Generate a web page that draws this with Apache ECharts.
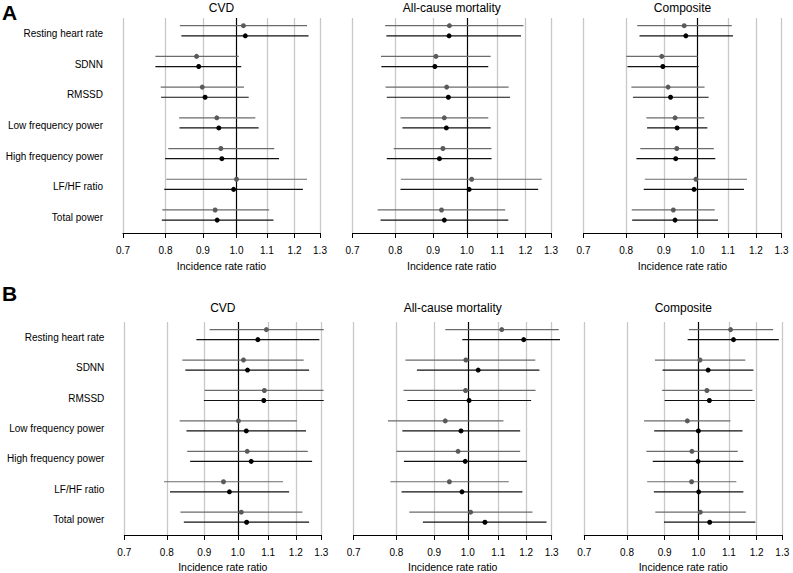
<!DOCTYPE html>
<html><head><meta charset="utf-8">
<script src="https://cdn.jsdelivr.net/npm/echarts@6/dist/echarts.min.js"></script>
<style>html,body{margin:0;padding:0;background:#fff}#c{width:793px;height:573px}</style>
</head><body><div id="c"></div>
<script>
// ---------- data ----------
const categories = ['Resting heart rate','SDNN','RMSSD','Low frequency power','High frequency power','LF/HF ratio','Total power'];
const outcomes = ['CVD','All-cause mortality','Composite'];
const panelLetters = ['A','B'];
const tickValues = [0.7,0.8,0.9,1.0,1.1,1.2,1.3];
const gridValues = [0.7,0.8,0.9,1.1,1.2,1.3];
const refValue = 1.0;
const axisTitle = 'Incidence rate ratio';

// each row: [estimate, lower CI, upper CI]; m1 = grey, m2 = black
const A_CVD_m1 = [[1.022,0.837,1.248],[0.882,0.775,1.007],[0.898,0.788,1.024],[0.940,0.835,1.061],[0.952,0.807,1.126],[1.000,0.802,1.248],[0.935,0.792,1.108]];
const A_CVD_m2 = [[1.028,0.841,1.254],[0.888,0.775,1.015],[0.906,0.789,1.039],[0.946,0.836,1.072],[0.955,0.799,1.143],[0.991,0.797,1.232],[0.941,0.791,1.123]];
const A_ALL_m1 = [[0.947,0.775,1.193],[0.908,0.765,1.077],[0.939,0.776,1.139],[0.932,0.813,1.069],[0.928,0.796,1.080],[1.015,0.814,1.263],[0.924,0.757,1.127]];
const A_ALL_m2 = [[0.946,0.778,1.184],[0.905,0.766,1.069],[0.944,0.779,1.144],[0.938,0.818,1.077],[0.918,0.779,1.080],[1.007,0.813,1.249],[0.932,0.764,1.138]];
const A_COMP_m1 = [[0.959,0.828,1.113],[0.894,0.800,1.000],[0.912,0.813,1.022],[0.932,0.852,1.021],[0.937,0.836,1.052],[0.995,0.848,1.167],[0.927,0.814,1.055]];
const A_COMP_m2 = [[0.964,0.834,1.117],[0.897,0.803,1.003],[0.919,0.817,1.035],[0.938,0.854,1.031],[0.934,0.826,1.057],[0.989,0.845,1.156],[0.932,0.815,1.066]];
const B_CVD_m1 = [[1.094,0.915,1.310],[1.018,0.840,1.230],[1.087,0.901,1.309],[1.002,0.833,1.204],[1.030,0.853,1.246],[0.956,0.793,1.153],[1.011,0.835,1.225]];
const B_CVD_m2 = [[1.065,0.878,1.292],[1.031,0.848,1.251],[1.085,0.899,1.310],[1.027,0.851,1.239],[1.043,0.861,1.263],[0.974,0.808,1.175],[1.028,0.844,1.251]];
const B_ALL_m1 = [[1.112,0.932,1.329],[0.994,0.823,1.235],[0.993,0.818,1.236],[0.932,0.779,1.118],[0.970,0.800,1.178],[0.944,0.785,1.137],[1.009,0.833,1.224]];
const B_ALL_m2 = [[1.191,0.983,1.334],[1.033,0.853,1.251],[1.004,0.828,1.219],[0.979,0.815,1.178],[0.992,0.819,1.203],[0.982,0.813,1.186],[1.055,0.869,1.279]];
const B_COMP_m1 = [[1.106,0.971,1.263],[1.005,0.873,1.158],[1.027,0.893,1.184],[0.966,0.844,1.105],[0.980,0.850,1.131],[0.979,0.852,1.126],[1.006,0.874,1.160]];
const B_COMP_m2 = [[1.116,0.967,1.286],[1.031,0.894,1.188],[1.035,0.900,1.193],[1.000,0.871,1.148],[0.999,0.867,1.151],[1.001,0.870,1.151],[1.036,0.898,1.195]];

const panelData = [
  [[A_CVD_m1, A_CVD_m2],[A_ALL_m1, A_ALL_m2],[A_COMP_m1, A_COMP_m2]],
  [[B_CVD_m1, B_CVD_m2],[B_ALL_m1, B_ALL_m2],[B_COMP_m1, B_COMP_m2]]
];

// ---------- layout / style ----------
const FONT = "'Liberation Sans', Arial, Helvetica, sans-serif";
const rowLayout = [
  {top: 18, height: 215, titleY: 8, letterY: 13, nameGap: 27},
  {top: 322, height: 214, titleY: 308, letterY: 294, nameGap: 26}
];
const colLayout = [
  [[123, 197], [352.5, 198.5], [583.5, 198]],
  [[124.3, 197], [353.7, 198], [584.3, 198]]
];
const modelStyle = [
  {frac: -0.25, line: '#6b6b6b', dot: '#5a5a5a'},
  {frac: 0.08, line: '#111111', dot: '#000000'}
];

function makeRender(st) {
  return function (params, api) {
    const y = api.value(0);
    const band = api.size([0, 1], [1, y])[1];
    const dy = band * st.frac;
    const p = api.coord([api.value(1), y]);
    const lo = api.coord([api.value(2), y]);
    const hi = api.coord([api.value(3), y]);
    const yy = p[1] + dy;
    return {type: 'group', children: [
      {type: 'line', shape: {x1: lo[0], y1: yy, x2: hi[0], y2: yy}, style: {stroke: st.line, lineWidth: 1.2}},
      {type: 'circle', shape: {cx: p[0], cy: yy, r: 2.5}, style: {fill: st.dot}}
    ]};
  };
}

const grids = [], xAxes = [], yAxes = [], series = [], graphics = [];
panelData.forEach((row, r) => {
  const rl = rowLayout[r];
  graphics.push({type: 'text', left: 2, top: rl.letterY - 11,
    style: {text: panelLetters[r], font: 'bold 21px ' + FONT, fill: '#000'}});
  row.forEach((models, c) => {
    const [left, width] = colLayout[r][c];
    const gi = grids.length;
    grids.push({left: left, top: rl.top, width: width, height: rl.height, containLabel: false});
    xAxes.push({
      type: 'log', logBase: 10, gridIndex: gi, min: 0.7, max: 1.3,
      name: axisTitle, nameLocation: 'middle', nameGap: rl.nameGap,
      nameTextStyle: {fontSize: 10.5, color: '#000', fontFamily: FONT},
      axisLine: {show: true, lineStyle: {color: '#000', width: 1}},
      axisTick: {show: true, length: 5, inside: false, lineStyle: {color: '#000'}, customValues: tickValues},
      axisLabel: {show: true, customValues: tickValues, margin: 12, fontSize: 10, color: '#000', fontFamily: FONT,
        formatter: v => Number(v).toFixed(1)},
      splitLine: {show: false}, minorTick: {show: false}
    });
    yAxes.push({
      type: 'category', gridIndex: gi, data: categories, inverse: true,
      axisLine: {show: false}, axisTick: {show: false}, splitLine: {show: false},
      axisLabel: {show: c === 0, margin: 20, fontSize: 10, color: '#000', fontFamily: FONT, padding: [0, 0, 15, 0]}
    });
    // grid & reference lines
    series.push({
      type: 'line', xAxisIndex: gi, yAxisIndex: gi, data: [], silent: true, z: 1,
      markLine: {
        silent: true, symbol: 'none', z: 1, animation: false,
        label: {show: false},
        data: gridValues.map(v => ({xAxis: v, lineStyle: {color: '#c8c8c8', width: 1.3, type: 'solid'}}))
          .concat([{xAxis: refValue, lineStyle: {color: '#000', width: 1.2, type: 'solid'}}])
      }
    });
    models.forEach((arr, m) => {
      series.push({
        type: 'custom', xAxisIndex: gi, yAxisIndex: gi, z: 3, clip: false,
        encode: {x: [1, 2, 3], y: 0},
        renderItem: makeRender(modelStyle[m]),
        data: arr.map((d, i) => [i, d[0], d[1], d[2]])
      });
    });
    graphics.push({type: 'text', x: left + width / 2, y: rl.titleY,
      style: {text: outcomes[c], font: '12px ' + FONT, fill: '#000', textAlign: 'center', textVerticalAlign: 'middle'}});
  });
});

const chart = echarts.init(document.getElementById('c'), null, {renderer: 'svg'});
chart.setOption({
  animation: false,
  backgroundColor: '#fff',
  textStyle: {fontFamily: FONT},
  grid: grids, xAxis: xAxes, yAxis: yAxes, series: series, graphic: graphics
});
</script>
</body></html>
